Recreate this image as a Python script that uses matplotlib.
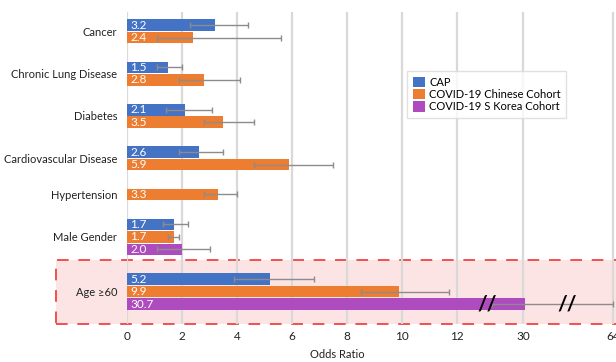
import numpy as np
import matplotlib
matplotlib.use("Agg")
import matplotlib.pyplot as plt
from matplotlib.patches import Rectangle, Patch
from matplotlib import transforms

plt.rcParams['font.family'] = ['Lato', 'DejaVu Sans']

nan = np.nan
categories = ["Cancer", "Chronic Lung Disease", "Diabetes", "Cardiovascular Disease",
              "Hypertension", "Male Gender", "Age \u226560"]
series_names = ["CAP", "COVID-19 Chinese Cohort", "COVID-19 S Korea Cohort"]
cap = [3.2, 1.5, 2.1, 2.6, nan, 1.7, 5.2]
cap_lo = [2.3, 1.1, 1.4, 1.9, nan, 1.3, 3.9]
cap_hi = [4.4, 2.0, 3.1, 3.5, nan, 2.2, 6.8]
chn = [2.4, 2.8, 3.5, 5.9, 3.3, 1.7, 9.9]
chn_lo = [1.1, 1.9, 2.8, 4.6, 2.8, 1.5, 8.5]
chn_hi = [5.6, 4.1, 4.6, 7.5, 4.0, 1.9, 11.7]
kor = [nan, nan, nan, nan, nan, 2.0, 30.7]
kor_lo = [nan, nan, nan, nan, nan, 1.1, 21.5]
kor_hi = [nan, nan, nan, nan, nan, 3.0, 64]
xticks = [0, 2, 4, 6, 8, 10, 12, 30, 64]

colors = ["#4472C4", "#ED7D31", "#AE4BBE"]

# broken axis: 0-12 linear, then compressed 12-30 and 30-64
bp_data = [0, 12, 30, 64, 100]
bp_disp = [0, 12, 14.4, 17.67, 21.13]
def fwd(x):
    return np.interp(x, bp_data, bp_disp)
def inv(x):
    return np.interp(x, bp_disp, bp_data)

fig = plt.figure(figsize=(6.16, 3.62), dpi=100)
ax = fig.add_axes([127/616, 1 - 324/362, 1 - 127/616, (324 - 12)/362])
ax.set_xscale('function', functions=(fwd, inv))

# bar positions: stacked per group, gap between groups
gap = 2.4
pos = 0.0
ypos = {0: [], 1: [], 2: []}
centers = []
for i in range(len(categories)):
    vals = [cap[i], chn[i], kor[i]]
    if i > 0:
        pos += gap
    ys = []
    for s, v in enumerate(vals):
        if not np.isnan(v):
            ypos[s].append((i, pos))
            ys.append(pos)
            pos += 1
    pos -= 1
    centers.append(np.mean(ys))

series = [(cap, cap_lo, cap_hi), (chn, chn_lo, chn_hi), (kor, kor_lo, kor_hi)]
for s, (v, lo, hi) in enumerate(series):
    idx = [i for i, _ in ypos[s]]
    ys = [y for _, y in ypos[s]]
    vals = [v[i] for i in idx]
    err = [[v[i] - lo[i] for i in idx], [hi[i] - v[i] for i in idx]]
    ax.barh(ys, vals, height=0.92, color=colors[s], zorder=2, label=series_names[s])
    ax.errorbar(vals, ys, xerr=err, fmt='none', ecolor='#8c8c8c', elinewidth=1,
                capsize=2.2, capthick=1, zorder=3)
    for val, y in zip(vals, ys):
        ax.annotate(f"{val:.1f}", (0, y), xytext=(2.5, 0), textcoords='offset points',
                    ha='left', va='center', color='white', fontsize=8.5, zorder=4)

last = pos
ax.set_ylim(last + 1.6, -1.05)
ax.set_xlim(0, 65.1)

for t in xticks:
    ax.axvline(t, color='#d9d9d9', lw=1.6, zorder=1)

ax.set_xticks(xticks)
ax.set_xticklabels([str(t) for t in xticks], fontsize=8.5, color='#222222')
ax.set_yticks(centers)
ax.set_yticklabels(categories, fontsize=8, color='#222222')
ax.tick_params(length=0)
ax.tick_params(axis='y', pad=7)
ax.tick_params(axis='x', pad=5)
for sp in ax.spines.values():
    sp.set_visible(False)

# highlight box around the last group
age_top = ypos[0][-1][1] - 1.5
trans = transforms.blended_transform_factory(fig.transFigure, ax.transData)
box = Rectangle((56/616, last + 1.6), 1.0, age_top - (last + 1.6), transform=trans,
                facecolor='#FCE4E4', edgecolor='#F0504F', lw=1.4, ls=(0, (6, 5)),
                clip_on=False, zorder=0)
ax.add_patch(box)

# break marks on the long bar
ky = ypos[2][-1][1]
for bx in [20.2, 46.6]:
    ax.text(bx, ky, "//", ha='center', va='center', fontsize=15, fontweight='bold',
            color='black', zorder=5)

fig.text(337/616, 1 - 355/362, "Odds Ratio", ha='center', va='center', fontsize=8,
         color='#222222')

handles = [Patch(facecolor=c) for c in colors]
fig.legend(handles, series_names, loc='upper left', bbox_to_anchor=(407/616, 1 - 71/362),
           fontsize=8, frameon=True, fancybox=False, edgecolor='#d9d9d9',
           handlelength=1.1, handleheight=1.1, handletextpad=0.4, labelspacing=0.1,
           borderpad=0.5, borderaxespad=0)

fig.savefig("out.png", dpi=100)
